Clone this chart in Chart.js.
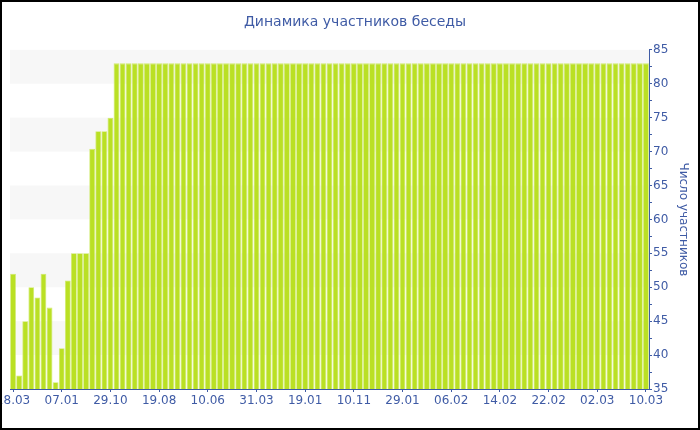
<!DOCTYPE html>
<html>
<head>
<meta charset="utf-8">
<script src="https://cdn.jsdelivr.net/npm/chart.js@4/dist/chart.umd.min.js"></script>
<style>
  html, body { margin: 0; padding: 0; background: #fff; }
  #wrap { width: 700px; height: 430px; position: relative; }
</style>
</head>
<body>
<div id="wrap"><canvas id="c" width="700" height="430"></canvas></div>
<script>
const chartTitle = 'Динамика участников беседы';
const yAxisTitle = 'Число участников';
const tickLabels = ['18.03', '07.01', '29.10', '19.08', '10.06', '31.03', '19.01', '10.11', '29.01', '06.02', '14.02', '22.02', '02.03', '10.03'];
const labelEvery = 8;
const participants = [
  52, 37, 45, 50, 48.5, 52, 47, 36, 41, 51, 55, 55, 55, 70.4, 73, 73, 75,
  83, 83, 83, 83, 83, 83, 83, 83,
  83, 83, 83, 83, 83, 83, 83, 83,
  83, 83, 83, 83, 83, 83, 83, 83,
  83, 83, 83, 83, 83, 83, 83, 83,
  83, 83, 83, 83, 83, 83, 83, 83,
  83, 83, 83, 83, 83, 83, 83, 83,
  83, 83, 83, 83, 83, 83, 83, 83,
  83, 83, 83, 83, 83, 83, 83, 83,
  83, 83, 83, 83, 83, 83, 83, 83,
  83, 83, 83, 83, 83, 83, 83, 83,
  83, 83, 83, 83, 83, 83, 83, 83
];
const yMin = 35, yMax = 85, yMajor = 5, yMinor = 2.5;

const categories = participants.map((v, i) => (i % labelEvery === 0 ? tickLabels[i / labelEvery] : ''));

const BLUE = '#3f5ba5';
const FONT = "'DejaVu Sans', Verdana, sans-serif";

const bandsPlugin = {
  id: 'bands',
  beforeDatasetsDraw(chart) {
    const { ctx, chartArea, scales } = chart;
    const y = scales.y;
    ctx.save();
    ctx.fillStyle = '#f7f7f7';
    let k = 0;
    for (let v = yMin; v < yMax; v += yMajor, k++) {
      if (k % 2 === 1) {
        const top = y.getPixelForValue(v + yMajor);
        const bot = y.getPixelForValue(v);
        ctx.fillRect(chartArea.left, top, chartArea.right - chartArea.left, bot - top);
      }
    }
    ctx.restore();
  }
};

const borderPlugin = {
  id: 'frame',
  afterDraw(chart) {
    const { ctx, width, height } = chart;
    ctx.save();
    ctx.strokeStyle = '#000';
    ctx.lineWidth = 2;
    ctx.strokeRect(1, 1, width - 2, height - 2);
    ctx.restore();
  }
};

new Chart(document.getElementById('c'), {
  type: 'bar',
  data: {
    labels: categories,
    datasets: [{
      data: participants,
      backgroundColor: '#bae024',
      borderColor: '#cfea6a',
      borderWidth: 0.8,
      borderSkipped: false,
      categoryPercentage: 1.0,
      barPercentage: 0.95
    }]
  },
  options: {
    responsive: false,
    animation: false,
    layout: { autoPadding: false, padding: { left: 10, right: 0, top: 0, bottom: 0 } },
    plugins: {
      legend: { display: false },
      tooltip: { enabled: false },
      title: {
        display: true,
        text: chartTitle,
        color: BLUE,
        font: { family: FONT, size: 14, weight: 'normal' },
        padding: { top: 14, bottom: 19 }
      }
    },
    scales: {
      x: {
        offset: true,
        grid: {
          offset: false,
          drawOnChartArea: false,
          tickLength: 3,
          tickColor: (c) => (c.index % labelEvery === 0 ? BLUE : 'rgba(0,0,0,0)')
        },
        border: { color: BLUE, width: 1 },
        ticks: {
          autoSkip: false,
          maxRotation: 0,
          minRotation: 0,
          padding: 2,
          color: BLUE,
          font: { family: FONT, size: 12 }
        },
        afterFit(scale) {
          scale.height = 41;
          scale.paddingLeft = 0;
          scale.paddingRight = 0;
        }
      },
      y: {
        position: 'right',
        min: yMin,
        max: yMax,
        grid: { drawOnChartArea: false, tickLength: 3, tickColor: BLUE },
        border: { color: BLUE, width: 1 },
        ticks: {
          stepSize: yMinor,
          autoSkip: false,
          padding: 1,
          color: BLUE,
          font: { family: FONT, size: 12 },
          callback: (v) => (v % yMajor === 0 ? String(v) : '')
        },
        title: {
          display: true,
          text: yAxisTitle,
          color: BLUE,
          font: { family: FONT, size: 12 },
          padding: { top: 10, bottom: 10 }
        },
        afterFit(scale) {
          scale.width = 51;
          scale.paddingTop = 0;
          scale.paddingBottom = 0;
        }
      }
    }
  },
  plugins: [bandsPlugin, borderPlugin]
});
</script>
</body>
</html>
